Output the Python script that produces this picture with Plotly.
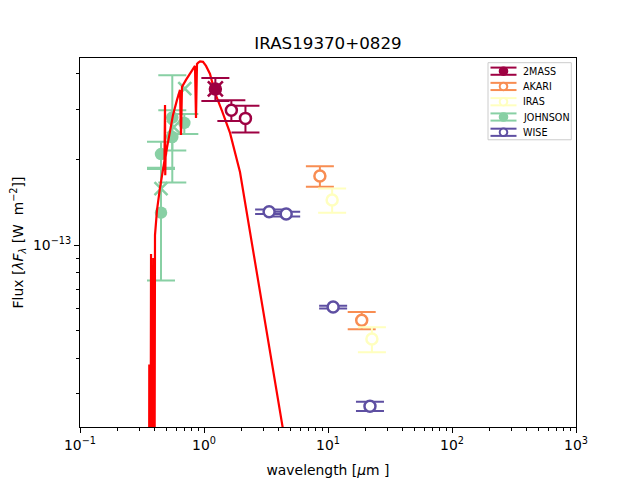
import plotly.graph_objects as go

# ---- data (wavelength in micron, flux in W m^-2) ----
tmass_wl = [1.235, 1.662, 2.159]
tmass_f = [3.54e-13, 2.98e-13, 2.79e-13]
tmass_err = [0.33e-13, 0.25e-13, 0.30e-13]
tmass_filled = [True, False, False]

akari_wl = [8.6, 18.7]
akari_f = [1.75e-13, 0.544e-13]
akari_err = [0.145e-13, 0.038e-13]

iras_wl = [10.8, 22.6]
iras_f = [1.44e-13, 0.467e-13]
iras_err = [0.14e-13, 0.047e-13]

john_wl = [0.45, 0.45, 0.555, 0.555, 0.694]
john_f = [2.09e-13, 1.30e-13, 2.81e-13, 2.40e-13, 2.69e-13]
john_err_plus = [0.22e-13, 0.55e-13, 1.15e-13, 0.58e-13, 0.20e-13]
john_err_minus = [0.22e-13, 0.55e-13, 1.15e-13, 0.25e-13, 0.23e-13]

john_x_wl = [0.45, 0.57, 0.70]
john_x_f = [1.58e-13, 2.60e-13, 3.55e-13]
tmass_x_wl = [1.235]
tmass_x_f = [3.54e-13]

wise_wl = [3.35, 4.6, 11.0, 21.8]
wise_f = [1.31e-13, 1.285e-13, 0.605e-13, 0.271e-13]
wise_err = [0.024e-13, 0.024e-13, 0.007e-13, 0.010e-13]

model_wl = [0.358, 0.362, 0.366, 0.374, 0.380, 0.390, 0.394, 0.4026, 0.4178, 0.4416,
            0.4714, 0.480, 0.4848, 0.4870, 0.4900, 0.5029, 0.5318, 0.5623, 0.6057,
            0.6405, 0.6524, 0.6646, 0.7158, 0.8000, 0.8460, 0.8620, 0.8781, 0.8947,
            0.9284, 0.9815, 1.038, 1.118, 1.227, 1.397, 1.621, 1.951, 2.350, 2.829,
            3.406, 4.297, 5.0]
model_f = [0.005e-13, 0.38e-13, 0.005e-13, 0.93e-13, 0.005e-13, 0.90e-13, 0.005e-13,
           1.084e-13, 1.328e-13, 1.588e-13, 1.912e-13, 1.98e-13, 3.11e-13, 1.76e-13,
           2.05e-13, 2.196e-13, 2.480e-13, 2.870e-13, 3.240e-13, 3.514e-13, 2.439e-13,
           3.60e-13, 3.811e-13, 4.132e-13, 4.268e-13, 2.801e-13, 4.337e-13, 4.373e-13,
           4.427e-13, 4.409e-13, 4.268e-13, 4.000e-13, 3.429e-13, 2.964e-13, 2.480e-13,
           1.807e-13, 1.111e-13, 0.683e-13, 0.420e-13, 0.2287e-13, 0.155e-13]

x_minor = [0.2, 0.3, 0.4, 0.5, 0.6, 0.7, 0.8, 0.9, 2, 3, 4, 5, 6, 7, 8, 9,
           20, 30, 40, 50, 60, 70, 80, 90, 200, 300, 400, 500, 600, 700, 800, 900]
y_minor = [3e-14, 4e-14, 5e-14, 6e-14, 7e-14, 8e-14, 9e-14, 2e-13, 3e-13, 4e-13]

legend_names = ["2MASS", "AKARI", "IRAS", "JOHNSON", "WISE"]
legend_filled = [True, False, False, True, False]

C_2MASS = "#9e0142"
C_AKARI = "#f88d52"
C_IRAS = "#ffffbf"
C_JOHN = "#88d0a4"
C_WISE = "#5e4fa2"
legend_colors = [C_2MASS, C_AKARI, C_IRAS, C_JOHN, C_WISE]

fig = go.Figure()


def err(vals, minus=None, color="black"):
    d = dict(type="data", array=vals, visible=True, color=color, thickness=2, width=14)
    if minus is not None:
        d["symmetric"] = False
        d["arrayminus"] = minus
    return d


# JOHNSON (under the model)
fig.add_trace(go.Scatter(
    x=john_wl, y=john_f, mode="markers", name="JOHNSON",
    error_y=err(john_err_plus, john_err_minus, C_JOHN),
    marker=dict(symbol="circle", size=12.5, color=C_JOHN, line=dict(width=0))))
fig.add_trace(go.Scatter(
    x=john_x_wl, y=john_x_f, mode="markers",
    marker=dict(symbol="x-thin", size=13, color=C_JOHN, line=dict(width=2.5, color=C_JOHN))))

# model
fig.add_trace(go.Scatter(
    x=model_wl, y=model_f, mode="lines",
    line=dict(color="#ff0000", width=2.2)))

# 2MASS
fig.add_trace(go.Scatter(
    x=tmass_wl, y=tmass_f, mode="markers", name="2MASS",
    error_y=err(tmass_err, color=C_2MASS),
    marker=dict(symbol="circle", size=11,
                color=[C_2MASS if f else "white" for f in tmass_filled],
                line=dict(width=2.5, color=C_2MASS))))
fig.add_trace(go.Scatter(
    x=tmass_x_wl, y=tmass_x_f, mode="markers",
    marker=dict(symbol="x-thin", size=15, color=C_2MASS, line=dict(width=2.5, color=C_2MASS))))

# AKARI
fig.add_trace(go.Scatter(
    x=akari_wl, y=akari_f, mode="markers", name="AKARI",
    error_y=err(akari_err, color=C_AKARI),
    marker=dict(symbol="circle", size=11, color="white", line=dict(width=2.5, color=C_AKARI))))

# IRAS
fig.add_trace(go.Scatter(
    x=iras_wl, y=iras_f, mode="markers", name="IRAS",
    error_y=err(iras_err, color=C_IRAS),
    marker=dict(symbol="circle", size=11, color="white", line=dict(width=2.5, color=C_IRAS))))

# WISE
fig.add_trace(go.Scatter(
    x=wise_wl, y=wise_f, mode="markers", name="WISE",
    error_y=err(wise_err, color=C_WISE),
    marker=dict(symbol="circle", size=11, color="white", line=dict(width=2.5, color=C_WISE))))

# ---- matplotlib-style legend drawn with shapes/annotations (paper coords) ----
PL, PR, PT, PB = 80.0, 576.0, 57.6, 427.2   # plot area in page pixels


def px_x(px):
    return (px - PL) / (PR - PL)


def px_y(py):
    return (PB - py) / (PB - PT)


shapes = [dict(type="rect", xref="paper", yref="paper",
               x0=px_x(488), x1=px_x(571.3), y0=px_y(139.5), y1=px_y(62.3),
               line=dict(color="#cccccc", width=1), fillcolor="rgba(255,255,255,0.8)",
               layer="above")]
annotations = []
row0, drow = 70.8, 15.3
for i, (name, col, filled) in enumerate(zip(legend_names, legend_colors, legend_filled)):
    yc = row0 + i * drow
    for dy in (-3.6, 3.6):
        shapes.append(dict(type="line", xref="paper", yref="paper",
                           x0=px_x(490.5), x1=px_x(516.5), y0=px_y(yc + dy), y1=px_y(yc + dy),
                           line=dict(color=col, width=2), layer="above"))
    shapes.append(dict(type="line", xref="paper", yref="paper",
                       x0=px_x(503.5), x1=px_x(503.5), y0=px_y(yc + 3.6), y1=px_y(yc - 3.6),
                       line=dict(color=col, width=1.5), layer="above"))
    shapes.append(dict(type="circle", xref="paper", yref="paper",
                       xsizemode="pixel", ysizemode="pixel",
                       xanchor=px_x(503.5), yanchor=px_y(yc),
                       x0=-3.8, x1=3.8, y0=-3.8, y1=3.8,
                       line=dict(color=col, width=2),
                       fillcolor=col if filled else "white", layer="above"))
    annotations.append(dict(xref="paper", yref="paper", x=px_x(521), y=px_y(yc),
                            xanchor="left", yanchor="middle", text=name, showarrow=False,
                            font=dict(size=9.6, color="black")))

axis_common = dict(
    type="log", showgrid=False, zeroline=False, showline=True, mirror=True,
    linecolor="black", linewidth=1, ticks="outside", ticklen=5, tickwidth=1,
    tickcolor="black", tickfont=dict(size=13.9, color="black"), automargin=False,
)

# page body has an 8px margin: figure is shrunk so the plot area lands where it should
fig.update_layout(
    width=632, height=472,
    margin=dict(l=72, r=64, t=50, b=53, pad=0),
    paper_bgcolor="white", plot_bgcolor="white",
    font=dict(family="DejaVu Sans", color="black"),
    title=dict(text="IRAS19370+0829", x=0.5, xref="paper", xanchor="center",
               y=1 - 35 / 472, yanchor="middle",
               font=dict(size=16.7, color="black")),
    xaxis=dict(
        **axis_common, range=[-1, 3],
        tickmode="array", tickvals=[0.1, 1, 10, 100, 1000],
        ticktext=["10<sup>−1</sup>", "10<sup>0</sup>", "10<sup>1</sup>", "10<sup>2</sup>", "10<sup>3</sup>"],
        minor=dict(tickmode="array", tickvals=x_minor, ticks="outside", ticklen=3, tickcolor="black"),
        title=dict(text="wavelength [<i>μ</i>m ]", font=dict(size=13.9), standoff=13),
    ),
    yaxis=dict(
        **axis_common, range=[-13.640, -12.342],
        tickmode="array", tickvals=[1e-13], ticktext=["10<sup>−13</sup>"],
        minor=dict(tickmode="array", tickvals=y_minor, ticks="outside", ticklen=3, tickcolor="black"),
        title=dict(text="Flux [<i>λF</i><sub><i>λ</i></sub> [W  m<sup>−2</sup>]]", font=dict(size=13.9), standoff=15),
    ),
    shapes=shapes,
    annotations=annotations,
    showlegend=False,
)

fig.write_html("out.html")
